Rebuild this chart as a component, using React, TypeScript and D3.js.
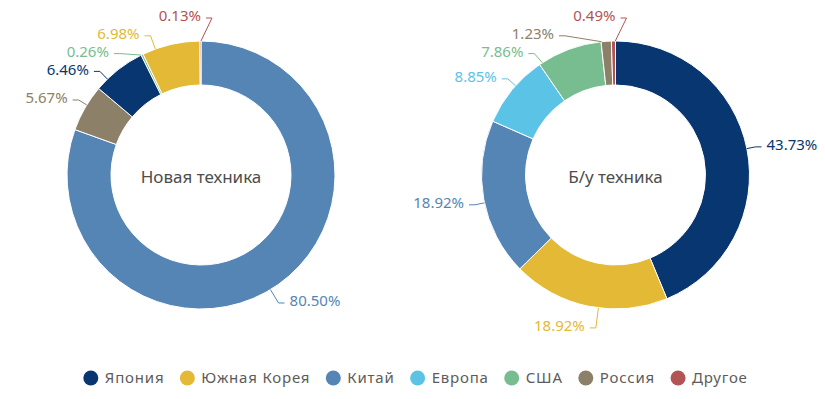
import React, { useEffect, useRef } from 'react';
import * as d3 from 'd3';

const categories = ['Япония', 'Южная Корея', 'Китай', 'Европа', 'США', 'Россия', 'Другое'];
const categoryColors = ['#083671', '#e3b935', '#5585b5', '#5bc4e6', '#77bd8f', '#8c8068', '#b35454'];

const newTitle = 'Новая техника';
const newCategories = ['Китай', 'Россия', 'Япония', 'США', 'Южная Корея', 'Другое'];
const newValues = [80.5, 5.67, 6.46, 0.26, 6.98, 0.13];

const usedTitle = 'Б/у техника';
const usedCategories = ['Япония', 'Южная Корея', 'Китай', 'Европа', 'США', 'Россия', 'Другое'];
const usedValues = [43.73, 18.92, 18.92, 8.85, 7.86, 1.23, 0.49];

const W = 825;
const H = 399;
const LABEL_FONT = '"Noto Sans", sans-serif';
const LEGEND_FONT = '"Noto Sans", sans-serif';

type Lab = { target: number; y: number; idx: number };

function distribute(labs: Lab[], h: number, minPos: number, maxPos: number) {
  const sorted = [...labs].sort((a, b) => a.target - b.target);
  let clusters = sorted.map((l) => ({ items: [l], s: Math.min(Math.max(l.target, minPos), maxPos) }));
  let changed = true;
  while (changed) {
    changed = false;
    for (let i = 0; i < clusters.length - 1; i++) {
      const a = clusters[i];
      const b = clusters[i + 1];
      if (a.s + a.items.length * h > b.s) {
        const items = [...a.items, ...b.items];
        let s = d3.mean(items.map((it, k) => it.target - k * h)) as number;
        s = Math.max(minPos, Math.min(s, maxPos - (items.length - 1) * h));
        clusters.splice(i, 2, { items, s });
        changed = true;
        break;
      }
    }
  }
  clusters.forEach((c) => c.items.forEach((it, k) => (it.y = c.s + k * h)));
}

function drawDonut(
  g: d3.Selection<SVGGElement, unknown, null, undefined>,
  cx: number,
  cy: number,
  cats: string[],
  vals: number[],
  title: string
) {
  const R = 134;
  const R0 = 90;
  const LR = 154;
  const LH = 17.8;
  const data = cats.map((c, i) => ({ cat: c, value: vals[i], color: categoryColors[categories.indexOf(c)] }));
  const pie = d3
    .pie<any>()
    .sort(null)
    .value((d: any) => d.value)
    .startAngle(0)
    .endAngle(2 * Math.PI);
  const arcs = pie(data);
  const arc = d3.arc<any>().innerRadius(R0).outerRadius(R);
  const dg = g.append('g').attr('transform', `translate(${cx},${cy})`);
  dg.selectAll('path')
    .data(arcs)
    .join('path')
    .attr('d', arc as any)
    .attr('fill', (d: any) => d.data.color)
    .attr('stroke', '#ffffff')
    .attr('stroke-width', 1);

  g.append('text')
    .attr('x', cx)
    .attr('y', cy + 8)
    .attr('text-anchor', 'middle')
    .attr('font-family', LABEL_FONT)
    .attr('font-size', 17)
    .attr('fill', '#4d4d4d')
    .text(title);

  const left: Lab[] = [];
  const right: Lab[] = [];
  arcs.forEach((a, i) => {
    const mid = (a.startAngle + a.endAngle) / 2;
    const lab = { target: cy - LR * Math.cos(mid), y: 0, idx: i };
    if (mid < Math.PI) right.push(lab);
    else left.push(lab);
  });
  distribute(left, LH, 16, 345);
  distribute(right, LH, 16, 345);

  const all = [...left.map((l) => ({ ...l, side: -1 })), ...right.map((l) => ({ ...l, side: 1 }))];
  all.forEach((l) => {
    const a = arcs[l.idx];
    const color = (a.data as any).color;
    const dy = l.y - cy;
    const dx = Math.sqrt(Math.max(0, LR * LR - dy * dy));
    const x = cx + l.side * dx;
    g.append('text')
      .attr('x', x)
      .attr('y', l.y)
      .attr('dy', '0.35em')
      .attr('text-anchor', l.side > 0 ? 'start' : 'end')
      .attr('font-family', LABEL_FONT)
      .attr('font-size', 15)
      .attr('fill', color)
      .text(d3.format('.2f')((a.data as any).value) + '%');
    const sx = x - l.side * 5;
    const bx = x - l.side * 11;
    const by = l.y + 2;
    let ang = Math.atan2(bx - cx, -(by - cy));
    if (ang < 0) ang += 2 * Math.PI;
    const mid = (a.startAngle + a.endAngle) / 2;
    const half = (a.endAngle - a.startAngle) / 2;
    let diff = ang - mid;
    while (diff > Math.PI) diff -= 2 * Math.PI;
    while (diff < -Math.PI) diff += 2 * Math.PI;
    diff = Math.max(-half * 0.9, Math.min(half * 0.9, diff));
    const fa = mid + diff;
    const ex = cx + R * Math.sin(fa);
    const ey = cy - R * Math.cos(fa);
    g.append('path')
      .attr('d', `M${sx},${by}L${bx},${by}L${ex},${ey}`)
      .attr('fill', 'none')
      .attr('stroke', color)
      .attr('stroke-width', 1);
  });
}

export default function App() {
  const ref = useRef<SVGSVGElement>(null);
  useEffect(() => {
    const svg = d3.select(ref.current);
    svg.selectAll('*').remove();
    const g = svg.append('g');
    drawDonut(g as any, 201, 175, newCategories, newValues, newTitle);
    drawDonut(g as any, 615.5, 175, usedCategories, usedValues, usedTitle);

    // legend
    const lg = svg.append('g');
    const items = categories.map((c, i) => {
      const it = lg.append('g');
      it.append('circle').attr('cx', 0).attr('cy', 0).attr('r', 7.5).attr('fill', categoryColors[i]);
      const t = it
        .append('text')
        .attr('x', 14)
        .attr('y', 0)
        .attr('dy', '0.35em')
        .attr('font-family', LEGEND_FONT)
        .attr('font-size', 15)
        .attr('letter-spacing', 0.8)
        .attr('fill', '#5c5c5c')
        .text(c);
      const w = (t.node() as SVGTextElement).getComputedTextLength();
      return { it, w };
    });
    let x = 0;
    const pos: number[] = [];
    items.forEach((d) => {
      pos.push(x);
      x += 14 + d.w + 23;
    });
    const total = x - 23 + 7.5;
    const start = 415.5 - total / 2 + 7.5;
    items.forEach((d, i) => d.it.attr('transform', `translate(${start + pos[i]},378)`));
  }, []);
  return (
    <svg
      ref={ref}
      width={W}
      height={H}
      style={{ position: 'absolute', left: 0, top: 0, background: '#fff' }}
    />
  );
}
